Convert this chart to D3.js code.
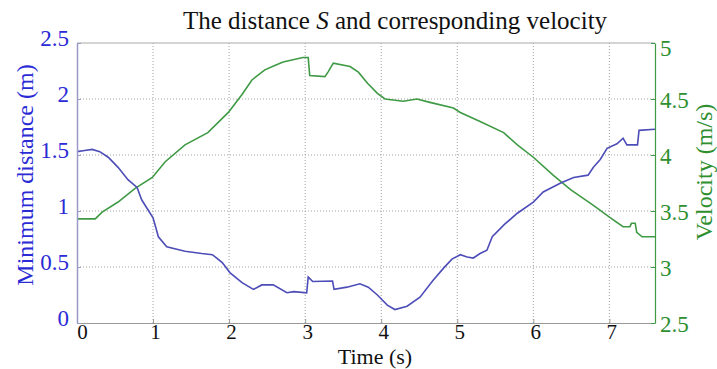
<!DOCTYPE html>
<html>
<head>
<meta charset="utf-8">
<script src="https://cdn.jsdelivr.net/npm/d3@7"></script>
<style>
  body { margin: 0; background: #fff; }
  svg { display: block; font-family: "Liberation Serif", "DejaVu Serif", serif; }
</style>
</head>
<body>
<svg id="chart"></svg>
<script>
/* Data Setup */
const distTime = [0, 0.1, 0.2, 0.3, 0.41, 0.54, 0.67, 0.79, 0.85, 1.0, 1.07, 1.18, 1.42, 1.64, 1.78, 1.91, 2.01, 2.17, 2.32, 2.43, 2.58, 2.76, 2.85, 3.02, 3.04, 3.1, 3.36, 3.38, 3.55, 3.72, 3.83, 3.95, 4.08, 4.18, 4.34, 4.51, 4.68, 4.82, 4.93, 5.04, 5.13, 5.21, 5.3, 5.39, 5.46, 5.62, 5.79, 6.0, 6.13, 6.36, 6.53, 6.72, 6.79, 6.88, 6.97, 7.1, 7.18, 7.23, 7.37, 7.39, 7.6];
const distValues = [1.53, 1.54, 1.55, 1.53, 1.48, 1.39, 1.28, 1.21, 1.10, 0.94, 0.77, 0.68, 0.64, 0.62, 0.61, 0.54, 0.45, 0.36, 0.30, 0.34, 0.34, 0.27, 0.28, 0.27, 0.41, 0.37, 0.375, 0.30, 0.32, 0.35, 0.32, 0.25, 0.16, 0.12, 0.15, 0.23, 0.38, 0.49, 0.57, 0.61, 0.59, 0.58, 0.62, 0.65, 0.77, 0.88, 0.98, 1.08, 1.17, 1.25, 1.30, 1.32, 1.39, 1.46, 1.56, 1.60, 1.65, 1.59, 1.59, 1.72, 1.73];

const velTime = [0, 0.24, 0.33, 0.54, 0.76, 0.99, 1.16, 1.42, 1.72, 1.99, 2.17, 2.3, 2.47, 2.6, 2.71, 2.97, 3.04, 3.06, 3.26, 3.3, 3.37, 3.59, 3.7, 3.82, 3.95, 4.05, 4.29, 4.47, 4.64, 4.95, 5.04, 5.3, 5.61, 5.79, 6.0, 6.26, 6.49, 6.79, 7.01, 7.18, 7.27, 7.29, 7.34, 7.36, 7.43, 7.6];
const velValues = [3.43, 3.43, 3.49, 3.58, 3.70, 3.80, 3.94, 4.09, 4.20, 4.38, 4.54, 4.67, 4.76, 4.80, 4.83, 4.87, 4.87, 4.71, 4.70, 4.74, 4.82, 4.79, 4.74, 4.64, 4.55, 4.50, 4.48, 4.50, 4.47, 4.42, 4.38, 4.30, 4.20, 4.09, 3.98, 3.82, 3.69, 3.55, 3.44, 3.36, 3.36, 3.39, 3.39, 3.31, 3.27, 3.27];

const timeTicks = [0, 1, 2, 3, 4, 5, 6, 7];
const distTicks = [0, 0.5, 1, 1.5, 2, 2.5];
const velTicks = [2.5, 3, 3.5, 4, 4.5, 5];

/* Chart dimensions */
const W = 717, H = 369;
const margin = { top: 43, right: 62, bottom: 46, left: 77 };
const width = W - margin.left - margin.right;
const height = H - margin.top - margin.bottom;

const blueText = "#2b2bd6", blueLine = "#4d4db8";
const greenText = "#2f8f2f", greenLine = "#3f9a45";

const svg = d3.select("#chart").attr("width", W).attr("height", H);
const g = svg.append("g").attr("transform", `translate(${margin.left},${margin.top})`);

/* Scales */
const x = d3.scaleLinear().domain([0, 7.6]).range([0, width]);
const yL = d3.scaleLinear().domain([0, 2.5]).range([height, 0]);
const yR = d3.scaleLinear().domain([2.5, 5]).range([height, 0]);

/* Grid lines */
const grid = g.append("g").attr("stroke", "#8a8a8a").attr("stroke-width", 0.8).attr("stroke-dasharray", "1,2");
grid.selectAll(".gx").data(timeTicks.filter(t => t > 0))
  .join("line")
  .attr("x1", d => x(d)).attr("x2", d => x(d))
  .attr("y1", 0).attr("y2", height);
grid.selectAll(".gy").data(distTicks.filter(t => t > 0 && t < 2.5))
  .join("line")
  .attr("x1", 0).attr("x2", width)
  .attr("y1", d => yL(d)).attr("y2", d => yL(d));

/* Lines */
const distLine = d3.line().x((d, i) => x(distTime[i])).y(d => yL(d));
const velLine = d3.line().x((d, i) => x(velTime[i])).y(d => yR(d));

g.append("path").datum(velValues)
  .attr("d", velLine).attr("fill", "none")
  .attr("stroke", greenLine).attr("stroke-width", 1.6);
g.append("path").datum(distValues)
  .attr("d", distLine).attr("fill", "none")
  .attr("stroke", blueLine).attr("stroke-width", 1.6);

/* Axes */
const xAxis = g.append("g")
  .attr("transform", `translate(0,${height})`)
  .call(d3.axisBottom(x).tickValues(timeTicks).tickFormat(d3.format("d")).tickSize(-4).tickPadding(1.5).tickSizeOuter(0));
xAxis.select(".domain").attr("stroke", "#999");
xAxis.selectAll(".tick line").attr("stroke", "#999");
xAxis.selectAll("text").attr("font-size", 21).attr("fill", "#111").attr("font-family", "Liberation Serif")
  .attr("dx", d => d === 0 ? 5 : 2);

g.append("line").attr("x1", 0).attr("x2", width).attr("y1", 0).attr("y2", 0)
  .attr("stroke", "#aaa").attr("stroke-width", 1);

const leftAxis = g.append("g")
  .call(d3.axisLeft(yL).tickValues(distTicks).tickFormat(d3.format("")).tickSize(-4).tickPadding(8).tickSizeOuter(0));
leftAxis.select(".domain").attr("stroke", "#9a9ac8").attr("stroke-width", 1.5);
leftAxis.selectAll(".tick line").attr("stroke", "#9a9ac8");
leftAxis.selectAll("text").attr("font-size", 23).attr("fill", blueText).attr("font-family", "Liberation Serif")
  .attr("dy", "0.1em");

const rightAxis = g.append("g")
  .attr("transform", `translate(${width},0)`)
  .call(d3.axisRight(yR).tickValues(velTicks).tickFormat(d3.format("")).tickSize(-4).tickPadding(5).tickSizeOuter(0));
rightAxis.select(".domain").attr("stroke", greenLine).attr("stroke-width", 1.2);
rightAxis.selectAll(".tick line").attr("stroke", greenLine);
rightAxis.selectAll("text").attr("font-size", 23).attr("fill", greenText).attr("font-family", "Liberation Serif")
  .attr("dy", d => d === 5 ? "0.55em" : "0.35em");

/* Title */
const title = svg.append("text")
  .attr("x", 395).attr("y", 29)
  .attr("text-anchor", "middle")
  .attr("font-size", 25).attr("fill", "#111");
title.append("tspan").text("The distance ");
title.append("tspan").attr("font-style", "italic").text("S");
title.append("tspan").text(" and corresponding velocity");

/* Axis titles */
svg.append("text")
  .attr("x", 375).attr("y", 364)
  .attr("text-anchor", "middle")
  .attr("font-size", 22).attr("fill", "#111")
  .text("Time (s)");

svg.append("text")
  .attr("transform", `translate(33,175) rotate(-90)`)
  .attr("text-anchor", "middle")
  .attr("font-size", 24).attr("fill", blueText)
  .text("Minimum distance (m)");

svg.append("text")
  .attr("transform", `translate(712,172) rotate(-90)`)
  .attr("text-anchor", "middle")
  .attr("font-size", 24).attr("fill", greenText)
  .text("Velocity (m/s)");
</script>
</body>
</html>
